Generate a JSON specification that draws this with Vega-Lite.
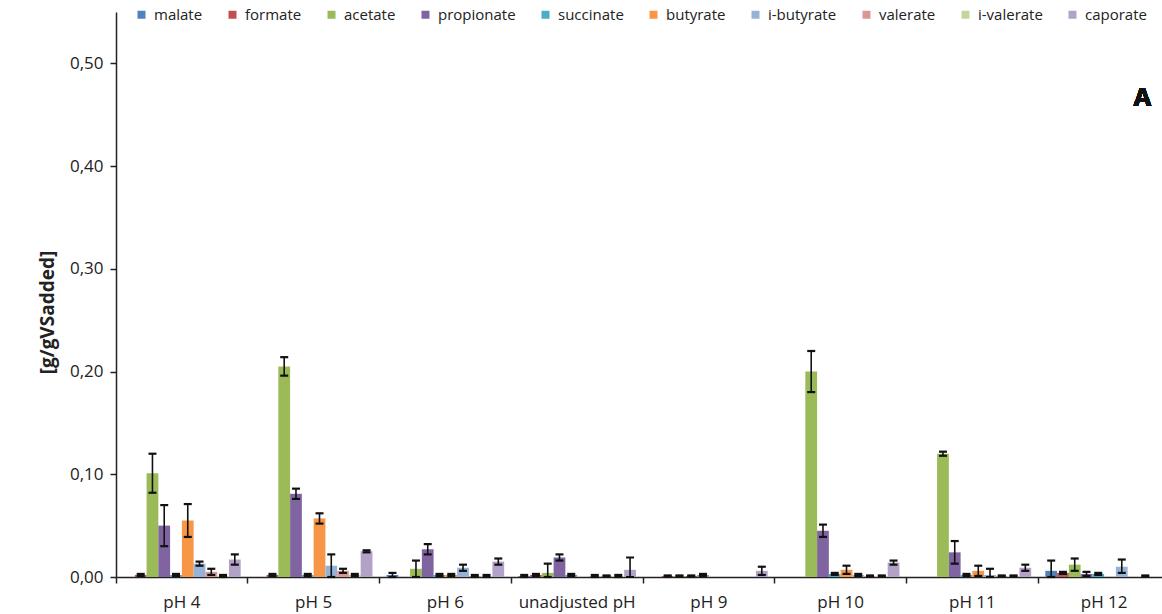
{
  "$schema": "https://vega.github.io/schema/vega-lite/v6.json",
  "width": 1046,
  "height": 565,
  "autosize": "none",
  "padding": {"left": 116, "top": 12, "right": 0, "bottom": 37},
  "background": "white",
  "config": {
    "view": {"stroke": null},
    "font": "Open Sans",
    "axis": {"domainColor": "#222222", "tickColor": "#222222", "labelColor": "#222222", "titleColor": "#222222"}
  },
  "data": {
    "values": [
      {"g": "pH 4", "acid": "malate", "v": 0, "lo": 0, "hi": 0},
      {"g": "pH 4", "acid": "formate", "v": 0.002, "lo": 0.001, "hi": 0.003},
      {"g": "pH 4", "acid": "acetate", "v": 0.101, "lo": 0.082, "hi": 0.120},
      {"g": "pH 4", "acid": "propionate", "v": 0.050, "lo": 0.030, "hi": 0.070},
      {"g": "pH 4", "acid": "succinate", "v": 0.002, "lo": 0.001, "hi": 0.003},
      {"g": "pH 4", "acid": "butyrate", "v": 0.055, "lo": 0.039, "hi": 0.071},
      {"g": "pH 4", "acid": "i-butyrate", "v": 0.013, "lo": 0.011, "hi": 0.015},
      {"g": "pH 4", "acid": "valerate", "v": 0.005, "lo": 0.002, "hi": 0.008},
      {"g": "pH 4", "acid": "i-valerate", "v": 0.001, "lo": 0.0, "hi": 0.002},
      {"g": "pH 4", "acid": "caporate", "v": 0.017, "lo": 0.012, "hi": 0.022},

      {"g": "pH 5", "acid": "malate", "v": 0, "lo": 0, "hi": 0},
      {"g": "pH 5", "acid": "formate", "v": 0.002, "lo": 0.001, "hi": 0.003},
      {"g": "pH 5", "acid": "acetate", "v": 0.205, "lo": 0.196, "hi": 0.214},
      {"g": "pH 5", "acid": "propionate", "v": 0.081, "lo": 0.076, "hi": 0.086},
      {"g": "pH 5", "acid": "succinate", "v": 0.002, "lo": 0.001, "hi": 0.003},
      {"g": "pH 5", "acid": "butyrate", "v": 0.057, "lo": 0.052, "hi": 0.062},
      {"g": "pH 5", "acid": "i-butyrate", "v": 0.011, "lo": 0.0, "hi": 0.022},
      {"g": "pH 5", "acid": "valerate", "v": 0.006, "lo": 0.004, "hi": 0.008},
      {"g": "pH 5", "acid": "i-valerate", "v": 0.002, "lo": 0.001, "hi": 0.003},
      {"g": "pH 5", "acid": "caporate", "v": 0.025, "lo": 0.024, "hi": 0.026},

      {"g": "pH 6", "acid": "malate", "v": 0.002, "lo": 0.0, "hi": 0.004},
      {"g": "pH 6", "acid": "formate", "v": 0, "lo": 0, "hi": 0},
      {"g": "pH 6", "acid": "acetate", "v": 0.008, "lo": 0.0, "hi": 0.016},
      {"g": "pH 6", "acid": "propionate", "v": 0.027, "lo": 0.022, "hi": 0.032},
      {"g": "pH 6", "acid": "succinate", "v": 0.002, "lo": 0.001, "hi": 0.003},
      {"g": "pH 6", "acid": "butyrate", "v": 0.002, "lo": 0.001, "hi": 0.003},
      {"g": "pH 6", "acid": "i-butyrate", "v": 0.009, "lo": 0.006, "hi": 0.012},
      {"g": "pH 6", "acid": "valerate", "v": 0.001, "lo": 0.0, "hi": 0.002},
      {"g": "pH 6", "acid": "i-valerate", "v": 0.001, "lo": 0.0, "hi": 0.002},
      {"g": "pH 6", "acid": "caporate", "v": 0.015, "lo": 0.012, "hi": 0.018},

      {"g": "unadjusted pH", "acid": "malate", "v": 0.001, "lo": 0.0, "hi": 0.002},
      {"g": "unadjusted pH", "acid": "formate", "v": 0.002, "lo": 0.001, "hi": 0.003},
      {"g": "unadjusted pH", "acid": "acetate", "v": 0.004, "lo": 0.0, "hi": 0.013},
      {"g": "unadjusted pH", "acid": "propionate", "v": 0.019, "lo": 0.016, "hi": 0.022},
      {"g": "unadjusted pH", "acid": "succinate", "v": 0.002, "lo": 0.001, "hi": 0.003},
      {"g": "unadjusted pH", "acid": "butyrate", "v": 0, "lo": 0, "hi": 0},
      {"g": "unadjusted pH", "acid": "i-butyrate", "v": 0.001, "lo": 0.0, "hi": 0.002},
      {"g": "unadjusted pH", "acid": "valerate", "v": 0.001, "lo": 0.0005, "hi": 0.0015},
      {"g": "unadjusted pH", "acid": "i-valerate", "v": 0.001, "lo": 0.0, "hi": 0.002},
      {"g": "unadjusted pH", "acid": "caporate", "v": 0.007, "lo": 0.0, "hi": 0.019},

      {"g": "pH 9", "acid": "malate", "v": 0, "lo": 0, "hi": 0},
      {"g": "pH 9", "acid": "formate", "v": 0.001, "lo": 0.0005, "hi": 0.0015},
      {"g": "pH 9", "acid": "acetate", "v": 0.001, "lo": 0.0005, "hi": 0.0015},
      {"g": "pH 9", "acid": "propionate", "v": 0.001, "lo": 0.0005, "hi": 0.0015},
      {"g": "pH 9", "acid": "succinate", "v": 0.002, "lo": 0.001, "hi": 0.003},
      {"g": "pH 9", "acid": "butyrate", "v": 0, "lo": 0, "hi": 0},
      {"g": "pH 9", "acid": "i-butyrate", "v": 0, "lo": 0, "hi": 0},
      {"g": "pH 9", "acid": "valerate", "v": 0, "lo": 0, "hi": 0},
      {"g": "pH 9", "acid": "i-valerate", "v": 0, "lo": 0, "hi": 0},
      {"g": "pH 9", "acid": "caporate", "v": 0.006, "lo": 0.002, "hi": 0.010},

      {"g": "pH 10", "acid": "malate", "v": 0, "lo": 0, "hi": 0},
      {"g": "pH 10", "acid": "formate", "v": 0, "lo": 0, "hi": 0},
      {"g": "pH 10", "acid": "acetate", "v": 0.200, "lo": 0.180, "hi": 0.220},
      {"g": "pH 10", "acid": "propionate", "v": 0.045, "lo": 0.039, "hi": 0.051},
      {"g": "pH 10", "acid": "succinate", "v": 0.003, "lo": 0.002, "hi": 0.004},
      {"g": "pH 10", "acid": "butyrate", "v": 0.007, "lo": 0.003, "hi": 0.011},
      {"g": "pH 10", "acid": "i-butyrate", "v": 0.002, "lo": 0.001, "hi": 0.003},
      {"g": "pH 10", "acid": "valerate", "v": 0.001, "lo": 0.0005, "hi": 0.0015},
      {"g": "pH 10", "acid": "i-valerate", "v": 0.001, "lo": 0.0005, "hi": 0.0015},
      {"g": "pH 10", "acid": "caporate", "v": 0.014, "lo": 0.012, "hi": 0.016},

      {"g": "pH 11", "acid": "malate", "v": 0, "lo": 0, "hi": 0},
      {"g": "pH 11", "acid": "formate", "v": 0, "lo": 0, "hi": 0},
      {"g": "pH 11", "acid": "acetate", "v": 0.120, "lo": 0.118, "hi": 0.122},
      {"g": "pH 11", "acid": "propionate", "v": 0.024, "lo": 0.013, "hi": 0.035},
      {"g": "pH 11", "acid": "succinate", "v": 0.002, "lo": 0.001, "hi": 0.003},
      {"g": "pH 11", "acid": "butyrate", "v": 0.006, "lo": 0.001, "hi": 0.011},
      {"g": "pH 11", "acid": "i-butyrate", "v": 0.002, "lo": 0.0, "hi": 0.008},
      {"g": "pH 11", "acid": "valerate", "v": 0.001, "lo": 0.0005, "hi": 0.0015},
      {"g": "pH 11", "acid": "i-valerate", "v": 0.001, "lo": 0.0005, "hi": 0.0015},
      {"g": "pH 11", "acid": "caporate", "v": 0.009, "lo": 0.006, "hi": 0.012},

      {"g": "pH 12", "acid": "malate", "v": 0.006, "lo": 0.0, "hi": 0.016},
      {"g": "pH 12", "acid": "formate", "v": 0.004, "lo": 0.003, "hi": 0.005},
      {"g": "pH 12", "acid": "acetate", "v": 0.012, "lo": 0.006, "hi": 0.018},
      {"g": "pH 12", "acid": "propionate", "v": 0.003, "lo": 0.001, "hi": 0.005},
      {"g": "pH 12", "acid": "succinate", "v": 0.003, "lo": 0.002, "hi": 0.004},
      {"g": "pH 12", "acid": "butyrate", "v": 0, "lo": 0, "hi": 0},
      {"g": "pH 12", "acid": "i-butyrate", "v": 0.010, "lo": 0.004, "hi": 0.017},
      {"g": "pH 12", "acid": "valerate", "v": 0, "lo": 0, "hi": 0},
      {"g": "pH 12", "acid": "i-valerate", "v": 0.001, "lo": 0.0005, "hi": 0.0015},
      {"g": "pH 12", "acid": "caporate", "v": 0, "lo": 0, "hi": 0}
    ]
  },
  "encoding": {
    "x": {
      "field": "g",
      "type": "nominal",
      "sort": ["pH 4", "pH 5", "pH 6", "unadjusted pH", "pH 9", "pH 10", "pH 11", "pH 12"],
      "scale": {"paddingInner": 0, "paddingOuter": 0, "range": [0, 1054]},
      "axis": {
        "title": null,
        "labelAngle": 0,
        "bandPosition": 0,
        "labelFontSize": 17,
        "labelPadding": 11,
        "labelOverlap": false,
        "labelBound": false,
        "tickSize": 6,
        "tickWidth": 1.5,
        "domainWidth": 1.5
      }
    },
    "xOffset": {
      "field": "acid",
      "type": "nominal",
      "sort": ["malate", "formate", "acetate", "propionate", "succinate", "butyrate", "i-butyrate", "valerate", "i-valerate", "caporate"],
      "scale": {"paddingInner": 0, "paddingOuter": 0.6}
    }
  },
  "layer": [
    {
      "mark": {"type": "bar"},
      "encoding": {
        "y": {
          "field": "v",
          "type": "quantitative",
          "scale": {"domain": [0, 0.55], "nice": false},
          "axis": {
            "values": [0, 0.1, 0.2, 0.3, 0.4, 0.5],
            "labelExpr": "replace(format(datum.value, '.2f'), '.', ',')",
            "labelFontSize": 17,
            "labelPadding": 7,
            "tickSize": 6,
            "tickWidth": 1.5,
            "domainWidth": 1.5,
            "grid": false,
            "title": "[g/gVSadded]",
            "titleFontSize": 19,
            "titleFontWeight": "bold",
            "titleX": -69,
            "titleY": 300,
            "titleAlign": "center",
            "titleBaseline": "middle"
          }
        },
        "color": {
          "field": "acid",
          "type": "nominal",
          "scale": {
            "domain": ["malate", "formate", "acetate", "propionate", "succinate", "butyrate", "i-butyrate", "valerate", "i-valerate", "caporate"],
            "range": ["#4F81BD", "#C0504D", "#9BBB59", "#8064A2", "#4BACC6", "#F79646", "#95B3D7", "#D99694", "#C3D69B", "#B3A2C7"]
          },
          "legend": {
            "orient": "none",
            "direction": "horizontal",
            "columns": 10,
            "legendX": 18,
            "legendY": -5,
            "title": null,
            "symbolType": "square",
            "symbolSize": 64,
            "symbolStrokeWidth": 0,
            "labelFontSize": 15,
            "labelOffset": 5,
            "columnPadding": 22,
            "labelColor": "#222222"
          }
        }
      }
    },
    {
      "transform": [{"filter": "datum.hi > 0"}],
      "mark": {"type": "rule", "color": "#111111", "strokeWidth": 1.6},
      "encoding": {
        "y": {"field": "lo", "type": "quantitative"},
        "y2": {"field": "hi"}
      }
    },
    {
      "transform": [{"filter": "datum.hi > 0"}],
      "mark": {"type": "tick", "color": "#111111", "size": 8, "thickness": 2.2, "opacity": 1},
      "encoding": {
        "y": {"field": "hi", "type": "quantitative"}
      }
    },
    {
      "transform": [{"filter": "datum.hi > 0"}],
      "mark": {"type": "tick", "color": "#111111", "size": 8, "thickness": 2.2, "opacity": 1},
      "encoding": {
        "y": {"field": "lo", "type": "quantitative"}
      }
    },
    {
      "mark": {"type": "text", "text": "A", "fontSize": 25, "fontWeight": "bold", "font": "Open Sans", "color": "#111111", "baseline": "middle", "align": "center", "dx": -3},
      "encoding": {
        "x": {"datum": "pH 12"},
        "xOffset": {"datum": "i-valerate"},
        "y": {"datum": 0.466}
      }
    }
  ]
}
